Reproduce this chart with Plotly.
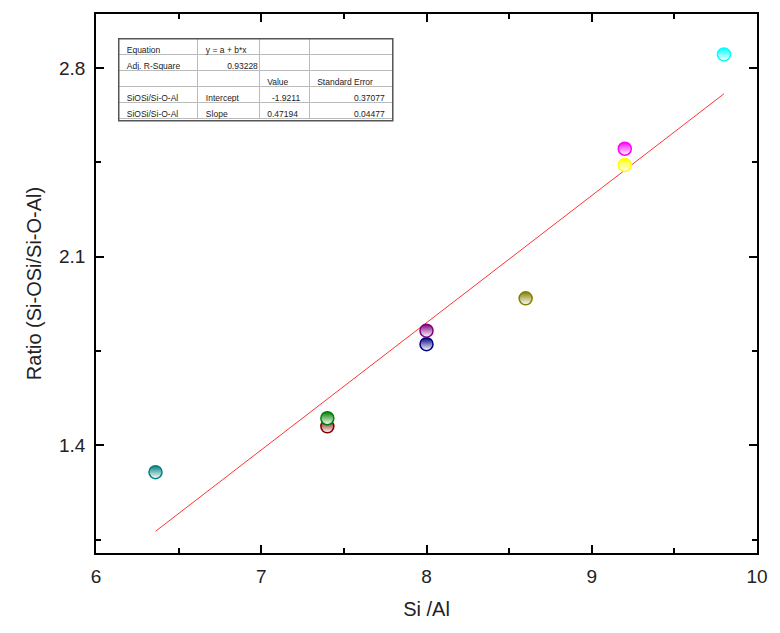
import plotly.graph_objects as go

# data
si_al = [6.36, 7.40, 7.40, 8.00, 8.00, 8.60, 9.20, 9.20, 9.80]
ratio = [1.30, 1.47, 1.50, 1.775, 1.825, 1.945, 2.44, 2.50, 2.85]
colors = ["#008080", "#800000", "#008000", "#000080", "#800080",
          "#808000", "#ffff00", "#ff00ff", "#00ffff"]

intercept = -1.9211
slope = 0.47194

NB = "\u00a0"
table_col1 = ["Equation", "Adj." + NB + "R-Square", "", "SiOSi/Si-O-Al", "SiOSi/Si-O-Al"]
table_col2 = ["y" + NB + "=" + NB + "a" + NB + "+" + NB + "b*x", NB * 9 + "0.93228", "", "Intercept", "Slope"]
table_col3 = ["", "", "Value", NB * 2 + "-1.9211", "0.47194"]
table_col4 = ["", "", "Standard" + NB + "Error" + NB * 5, "0.37077", "0.04477"]

x_fit = [min(si_al), max(si_al)]
y_fit = [intercept + slope * v for v in x_fit]

fig = go.Figure()

fig.add_trace(go.Scatter(x=x_fit, y=y_fit, mode="lines",
                         line=dict(color="rgba(255,0,0,0.8)", width=1),
                         showlegend=False, hoverinfo="skip"))

fig.add_trace(go.Scatter(x=si_al, y=ratio, mode="markers",
                         marker=dict(symbol="circle", size=13, color=colors,
                                     gradient=dict(type="vertical", color="white"),
                                     line=dict(color=colors, width=1.5)),
                         showlegend=False))

tfont = dict(family="Liberation Sans, Arial", size=8.5, color="#222")
fig.add_trace(go.Table(
    domain=dict(x=[0.0344, 0.449], y=[0.802, 0.954]),
    columnwidth=[80, 62, 51, 84],
    header=dict(values=[table_col1[0], table_col2[0], table_col3[0], table_col4[0]],
                height=16, align=["left", "left", "left", "right"], font=tfont,
                fill=dict(color="white"), line=dict(color="#bbbbbb", width=1)),
    cells=dict(values=[table_col1[1:], table_col2[1:], table_col3[1:], table_col4[1:]],
               height=16, align=["left", "left", "left", "right"], font=tfont,
               fill=dict(color="white"), line=dict(color="#bbbbbb", width=1)),
))

tick_font = dict(family="Liberation Sans, Arial", size=19, color="#222")
title_font = dict(family="Liberation Sans, Arial", size=20, color="#222")

fig.update_layout(
    width=780, height=633,
    margin=dict(l=96, r=16, t=12, b=80),
    plot_bgcolor="white", paper_bgcolor="white",
    xaxis=dict(range=[6, 10], dtick=1, tick0=6, ticks="inside", ticklen=8,
               tickwidth=1.5, tickcolor="black", showgrid=False, zeroline=False,
               showline=True, linecolor="black", linewidth=1.5, mirror="allticks",
               minor=dict(dtick=0.5, tick0=6, ticks="inside", ticklen=5,
                          tickwidth=1.5, tickcolor="black", showgrid=False),
               tickfont=tick_font, ticklabelstandoff=5,
               title=dict(text="Si /Al", font=title_font, standoff=16)),
    yaxis=dict(range=[1.0, 3.0], dtick=0.7, tick0=1.4, ticks="inside", ticklen=8,
               tickwidth=1.5, tickcolor="black", showgrid=False, zeroline=False,
               showline=True, linecolor="black", linewidth=1.5, mirror="allticks",
               minor=dict(dtick=0.35, tick0=1.05, ticks="inside", ticklen=5,
                          tickwidth=1.5, tickcolor="black", showgrid=False),
               tickformat=".1f", tickfont=tick_font, ticklabelstandoff=5,
               title=dict(text="Ratio (Si-OSi/Si-O-Al)", font=title_font, standoff=12)),
    shapes=[dict(type="rect", xref="paper", yref="paper",
                 x0=0.0344, x1=0.449, y0=0.802, y1=0.954,
                 line=dict(color="#555", width=1.5))],
)

fig.write_html("out.html")
